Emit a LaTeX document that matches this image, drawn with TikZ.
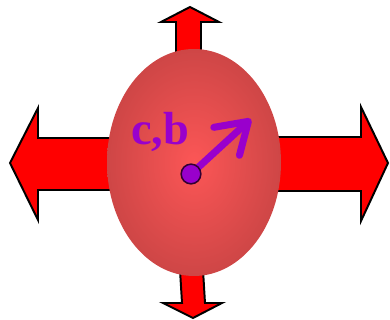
\documentclass[tikz,border=0pt]{standalone}
\usepackage{fontspec}
\setmainfont{Liberation Serif}
\usetikzlibrary{arrows.meta}
\definecolor{arrowred}{RGB}{255,0,0}
\definecolor{spinpurple}{RGB}{153,0,204}
\tikzset{
  bigarrow/.style={fill=arrowred, draw=black, line width=1.4pt, line join=miter},
  spin/.style={spinpurple, line width=5pt, line cap=round}
}
\begin{document}
\begin{tikzpicture}[x=0.025cm,y=-0.025cm]
\useasboundingbox (0,0) rectangle (390,320);
% the four push arrows
\draw[bigarrow] (10,163) -- (38,108) -- (38,138) -- (200,138) -- (200,190) -- (38,190) -- (38,220) -- cycle;
\draw[bigarrow] (388,163) -- (361,107) -- (361,137) -- (190,137) -- (190,191) -- (361,191) -- (361,221) -- cycle;
\draw[bigarrow] (190,7) -- (219,22) -- (201,22) -- (201,120) -- (176,120) -- (176,22) -- (161,22) -- cycle;
\draw[bigarrow] (193,318) -- (222,303) -- (205,303) -- (200,220) -- (177,220) -- (182,303) -- (163,303) -- cycle;
% nucleus
\shade[inner color={rgb,255:red,252;green,86;blue,86}, outer color={rgb,255:red,206;green,70;blue,70}]
  (194,162.5) ellipse (87 and 113.5);
\node[spinpurple, font=\fontsize{33}{35}\selectfont\bfseries, anchor=base west, inner sep=0pt] (lbl) at (131,145) {c,b};
% spin vector
\coordinate (pivot) at (191,174);
\coordinate (tip) at (251,119);
\draw[spin, -{Straight Barb[length=21pt,width=27pt,round]}] (pivot) -- (tip);
\node[circle, fill=spinpurple, draw={rgb,255:red,50;green,0;blue,50}, line width=1.1pt, minimum size=14pt, inner sep=0pt] (dot) at (pivot) {};
\end{tikzpicture}
\end{document}
